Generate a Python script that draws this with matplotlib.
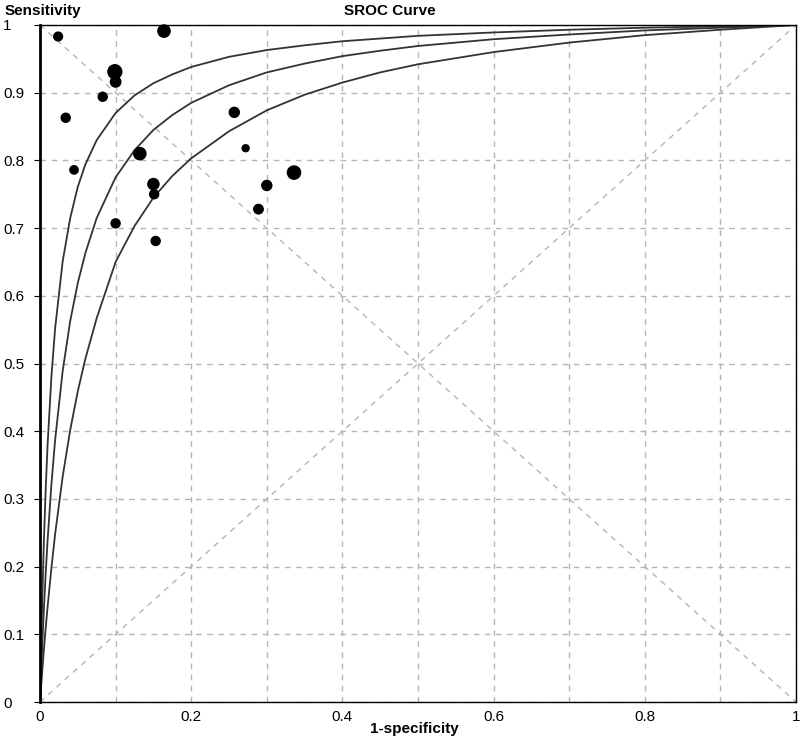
import matplotlib
matplotlib.use("Agg")
import matplotlib.pyplot as plt
import numpy as np

plt.rcParams['font.family'] = ['Liberation Sans', 'DejaVu Sans']

# study points: 1-specificity, sensitivity, marker size (study weight)
fpr = [0.024, 0.164, 0.099, 0.100, 0.083, 0.034, 0.045, 0.132, 0.150,
       0.151, 0.100, 0.153, 0.257, 0.272, 0.336, 0.300, 0.289]
tpr = [0.983, 0.991, 0.931, 0.916, 0.894, 0.863, 0.786, 0.810, 0.765,
       0.750, 0.707, 0.681, 0.871, 0.818, 0.782, 0.763, 0.728]
msize = [6.3, 8.8, 10.0, 7.5, 6.5, 6.5, 6.0, 8.8, 8.0,
         6.5, 6.5, 6.5, 7.2, 5.0, 9.5, 7.2, 6.8]

# SROC curve and its upper / lower bands
curve_x = [0, 0.001, 0.002, 0.005, 0.0075, 0.01, 0.015, 0.02, 0.03, 0.04,
           0.05, 0.06, 0.075, 0.1, 0.125, 0.15, 0.175, 0.2, 0.25, 0.3, 0.35,
           0.4, 0.45, 0.5, 0.6, 0.7, 0.8, 0.9, 1.0]
curve_up = [0, 0.057, 0.108, 0.233, 0.313, 0.379, 0.479, 0.552, 0.651, 0.715,
            0.761, 0.794, 0.830, 0.870, 0.896, 0.914, 0.927, 0.938, 0.953,
            0.963, 0.970, 0.976, 0.980, 0.984, 0.989, 0.993, 0.996, 0.998,
            1.0]
curve_mid = [0, 0.030, 0.058, 0.134, 0.189, 0.238, 0.320, 0.387, 0.489, 0.563,
             0.619, 0.663, 0.715, 0.775, 0.815, 0.845, 0.867, 0.885, 0.911,
             0.930, 0.943, 0.954, 0.962, 0.969, 0.979, 0.986, 0.992, 0.996,
             1.0]
curve_low = [0, 0.016, 0.031, 0.075, 0.109, 0.140, 0.197, 0.248, 0.333, 0.402,
             0.459, 0.507, 0.567, 0.650, 0.703, 0.745, 0.777, 0.803, 0.843,
             0.874, 0.897, 0.915, 0.930, 0.942, 0.960, 0.974, 0.985, 0.993,
             1.0]

grid_ticks = [i / 10 for i in range(11)]
xlabels = ['0', '', '0.2', '', '0.4', '', '0.6', '', '0.8', '', '1']
ylabels = ['0', '0.1', '0.2', '0.3', '0.4', '0.5', '0.6', '0.7', '0.8', '0.9', '1']

fig = plt.figure(figsize=(8, 7.4), dpi=100)
ax = fig.add_axes([40 / 800, 1 - 702 / 740, 756 / 800, 677 / 740])

ax.set_xlim(0, 1)
ax.set_ylim(0, 1)
ax.set_xticks(grid_ticks)
ax.set_yticks(grid_ticks)
ax.set_xticklabels(xlabels, fontsize=11)
ax.set_yticklabels(ylabels, fontsize=11)
ax.grid(True, color='#b4b4b4', linestyle=(0, (4, 4)), linewidth=1)
ax.set_axisbelow(True)

# diagonals
ax.plot([0, 1], [0, 1], color='#b4b4b4', linestyle=(0, (4, 4)), linewidth=1)
ax.plot([0, 1], [1, 0], color='#b4b4b4', linestyle=(0, (4, 4)), linewidth=1)

for cy in (curve_up, curve_mid, curve_low):
    ax.plot(curve_x, cy, color='#333333', linewidth=1.3)

ax.scatter(fpr, tpr, s=np.array(msize) ** 2, color='black', zorder=5,
           clip_on=False)

for sp in ax.spines.values():
    sp.set_color('black')
    sp.set_linewidth(1)
ax.spines['left'].set_linewidth(2)

ax.tick_params(axis='y', length=4, pad=22.5, direction='out')
for lab in ax.get_yticklabels():
    lab.set_horizontalalignment('left')
ax.tick_params(axis='x', length=0, pad=6)

fig.text(5 / 800, 1 - 11 / 740, 'Sensitivity', fontsize=11,
         fontweight='bold', va='center', ha='left')
fig.text(390 / 800, 1 - 11 / 740, 'SROC Curve', fontsize=11,
         fontweight='bold', va='center', ha='center')
fig.text(414 / 800, 1 - 729 / 740, '1-specificity', fontsize=11,
         fontweight='bold', va='center', ha='center')

fig.savefig('out.png', dpi=100)
